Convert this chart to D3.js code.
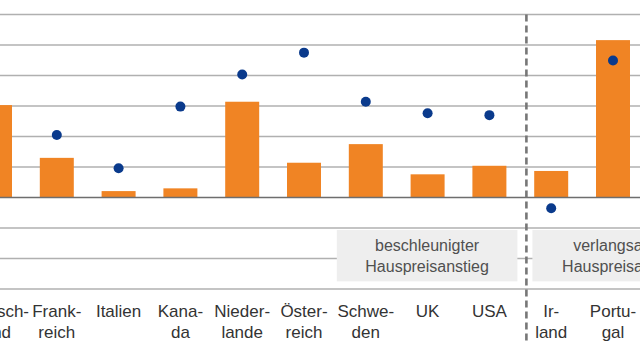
<!DOCTYPE html>
<html><head><meta charset="utf-8">
<script src="https://cdn.jsdelivr.net/npm/d3@7"></script>
<style>body{margin:0;background:#fff;overflow:hidden}svg{display:block}</style>
</head><body>
<svg id="c" width="640" height="360"></svg>
<script>
const categories = ["Deutschland","Frankreich","Italien","Kanada","Niederlande","Österreich","Schweden","UK","USA","Irland","Portugal"];
const labelLine1 = ["Deutsch-","Frank-","Italien","Kana-","Nieder-","Öster-","Schwe-","UK","USA","Ir-","Portu-"];
const labelLine2 = ["land","reich","","da","lande","reich","den","","","land","gal"];
const barValues = [3.03, 1.30, 0.21, 0.30, 3.14, 1.14, 1.75, 0.76, 1.04, 0.87, 5.16];
const dotValues = [3.63, 2.05, 0.96, 2.98, 4.03, 4.75, 3.14, 2.76, 2.70, -0.35, 4.49];
const gridTicks = [-3,-2,-1,0,1,2,3,4,5,6];
const groupLabels = [["beschleunigter","Hauspreisanstieg"],["verlangsamter","Hauspreisanstieg"]];

const svg = d3.select("#c");
const x = d3.scaleBand().domain(categories).range([-35.9, 643.9]).paddingInner(0.45).paddingOuter(0.225);
const y = d3.scaleLinear().domain([-3, 6]).range([289, 14.5]);
const cx = c => x(c) + x.bandwidth()/2;

// gridlines
svg.append("g").selectAll("line").data(gridTicks.filter(t => t !== 0)).join("line")
  .attr("x1", 0).attr("x2", 640).attr("y1", d => y(d)).attr("y2", d => y(d))
  .attr("stroke", "#b0b0b0").attr("stroke-width", 1.6);

// group boxes
const dashX = cx("USA") + 37;
const boxes = [
  {x0: cx("Schweden") - 29, x1: cx("USA") + 28, lines: groupLabels[0]},
  {x0: dashX + 6, x1: dashX + 189, lines: groupLabels[1]}
];
const bg = svg.append("g");
bg.selectAll("rect").data(boxes).join("rect")
  .attr("x", d => d.x0).attr("width", d => d.x1 - d.x0)
  .attr("y", y(-1) + 2).attr("height", y(-2.75) - y(-1) - 2)
  .attr("fill", "#eeeeee");
boxes.forEach(b => {
  b.lines.forEach((t, i) => {
    bg.append("text").attr("x", (b.x0 + b.x1)/2).attr("y", 251 + i*21)
      .attr("text-anchor", "middle").attr("font-family", "Arial, 'Liberation Sans', sans-serif")
      .attr("font-size", 16).attr("fill", "#505050").text(t);
  });
});

// bars
svg.append("g").selectAll("rect").data(categories).join("rect")
  .attr("x", d => x(d)).attr("width", x.bandwidth())
  .attr("y", (d, i) => y(Math.max(0, barValues[i])))
  .attr("height", (d, i) => Math.abs(y(barValues[i]) - y(0)))
  .attr("fill", "#f08424");

// zero line
svg.append("line").attr("x1", 0).attr("x2", 640).attr("y1", y(0)).attr("y2", y(0))
  .attr("stroke", "#6e6e6e").attr("stroke-width", 1.6);

// dashed separator
svg.append("line").attr("x1", dashX).attr("x2", dashX).attr("y1", y(6)).attr("y2", 341)
  .attr("stroke", "#777").attr("stroke-width", 2.6).attr("stroke-dasharray", "7,4");

// dots
svg.append("g").selectAll("circle").data(categories).join("circle")
  .attr("cx", d => cx(d)).attr("cy", (d, i) => y(dotValues[i])).attr("r", 5)
  .attr("fill", "#0a3a8c");

// category labels
const lg = svg.append("g").attr("font-family", "Arial, 'Liberation Sans', sans-serif")
  .attr("font-size", 17).attr("fill", "#333").attr("text-anchor", "middle");
categories.forEach((c, i) => {
  lg.append("text").attr("x", cx(c)).attr("y", 317).text(labelLine1[i]);
  if (labelLine2[i]) lg.append("text").attr("x", cx(c)).attr("y", 338).text(labelLine2[i]);
});
</script>
</body></html>
